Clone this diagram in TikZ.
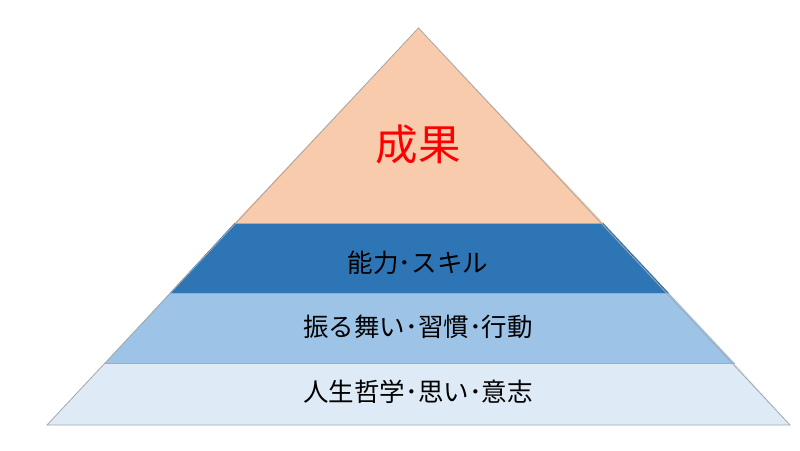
\documentclass[tikz,border=0pt]{standalone}
\usepackage{fontspec}
\newfontfamily\jp{Noto Sans CJK JP}
\definecolor{peach}{HTML}{F8CBAD}
\definecolor{dblue}{HTML}{2E75B6}
\definecolor{mblue}{HTML}{9DC3E6}
\definecolor{lblue}{HTML}{DEEBF7}
\definecolor{edge}{HTML}{8497B0}
\begin{document}
\begin{tikzpicture}[x=1pt,y=-1pt,
  band/.style={draw=edge,line width=0.8pt,line join=miter},
  lbl/.style={font=\jp\fontsize{25.5}{28}\selectfont,text=black,inner sep=0pt}]
\useasboundingbox (0,0) rectangle (800,450);
\coordinate (A) at (418.5,28);
\coordinate (BL) at (47,425);
\coordinate (BR) at (790,425);
\coordinate (L1) at (234.5,223);
\coordinate (R1) at (603.3,223);
\coordinate (L2) at (169.8,293);
\coordinate (R2) at (668.9,293);
\coordinate (L3) at (105.1,363);
\coordinate (R3) at (734.5,363);
\fill[lblue] (L3) -- (R3) -- (BR) -- (BL) -- cycle;
\fill[mblue] (L2) -- (R2) -- (R3) -- (L3) -- cycle;
\fill[dblue] (L1) -- (R1) -- (R2) -- (L2) -- cycle;
\fill[peach] (A) -- (R1) -- (L1) -- cycle;
\draw[draw=edge!80!white,line width=0.7pt] (L1) -- (R1) (L2) -- (R2) (L3) -- (R3);
\draw[band,draw=gray!70] (A) -- (BR) -- (BL) -- cycle;
\node[font=\jp\fontsize{42.5}{45}\selectfont,text=red,inner sep=0pt] (t1) at (418,145) {成果};
\node[lbl] (t2) at (418,263) {能力･スキル};
\node[lbl] (t3) at (418,327) {振る舞い･習慣･行動};
\node[lbl] (t4) at (418,392) {人生哲学･思い･意志};
\end{tikzpicture}
\end{document}
